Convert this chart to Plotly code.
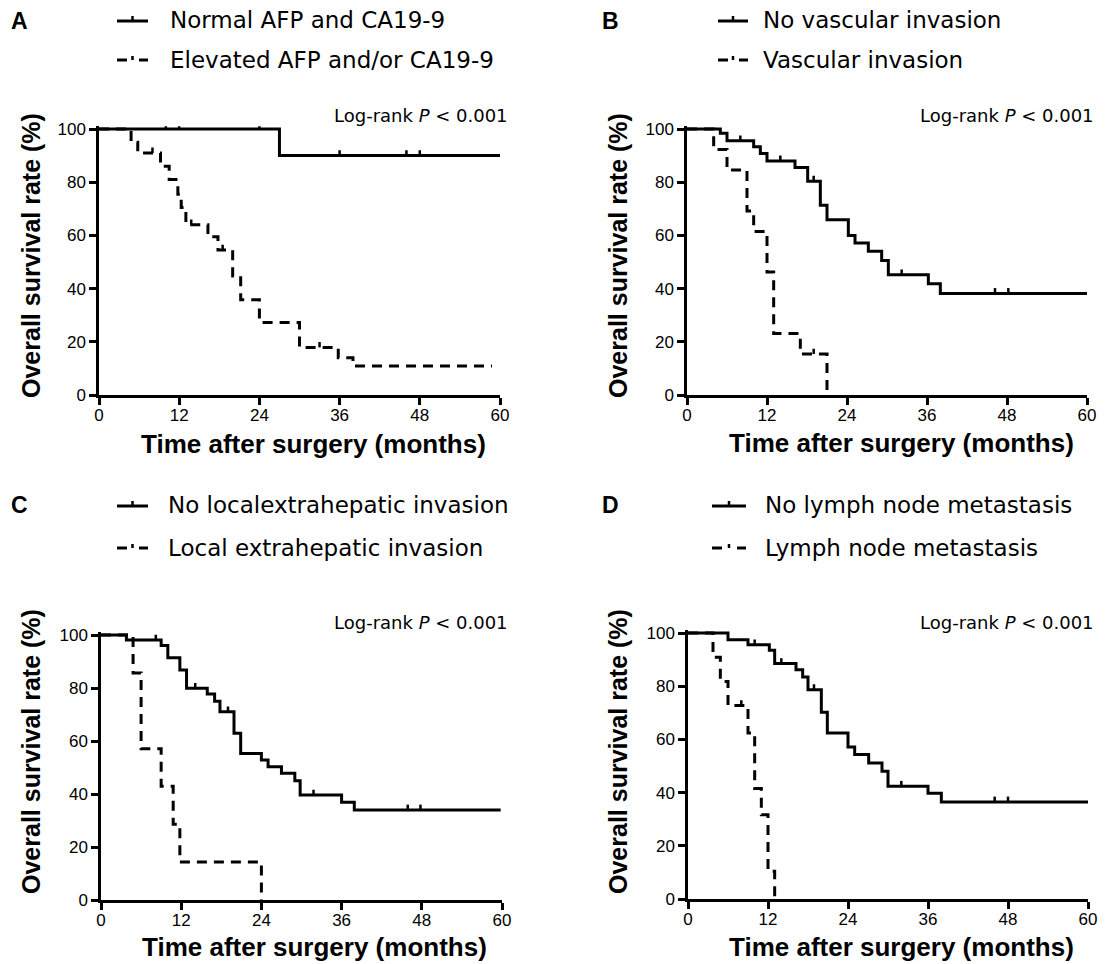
import plotly.graph_objects as go

W, H = 1105, 964
SANS = "Liberation Sans, Arial, Helvetica, sans-serif"
WIDE = "DejaVu Sans, Verdana, sans-serif"

# ---------------- data ----------------
x_ticks = [0, 12, 24, 36, 48, 60]
y_ticks = [0, 20, 40, 60, 80, 100]
panel_letters = ["A", "B", "C", "D"]
solid_labels = ["Normal AFP and CA19-9", "No vascular invasion",
                "No localextrahepatic invasion", "No lymph node metastasis"]
dashed_labels = ["Elevated AFP and/or CA19-9", "Vascular invasion",
                 "Local extrahepatic invasion", "Lymph node metastasis"]
x_title = "Time after surgery (months)"
y_title = "Overall survival rate (%)"
logrank_text = "Log-rank <i>P</i> &lt; 0.001"

# Panel A
a_solid_t = [0, 27, 60]
a_solid_s = [100, 90, 90]
a_solid_cens = [10, 12, 24, 36, 46, 48]
a_dash_t = [0, 4.8, 5.8, 9.2, 10.5, 11.8, 12.3, 13, 16.3, 17.8, 20, 21.2, 24, 30, 35.8, 38, 58.8]
a_dash_s = [100, 95, 91, 86, 81, 75.5, 70.5, 64, 59.5, 54.5, 44.7, 35.8, 27.3, 17.9, 14, 10.9, 10.9]
a_dash_cens = [8, 13.8, 18.5, 33]

# Panel B
b_solid_t = [0, 5, 6, 10, 11, 12, 16.2, 18.1, 20, 21, 24.2, 25.2, 27.2, 29.2, 30.2, 36.2, 38, 60]
b_solid_s = [100, 98.4, 95.6, 93.3, 90.8, 88, 85.5, 80.4, 71.3, 65.9, 60, 57.1, 54, 50.6, 45.2, 41.8, 38.2, 38.2]
b_solid_cens = [8, 14, 19, 32.2, 46.2, 48.2]
b_dash_t = [0, 4, 6, 9, 10, 12, 13, 17, 21]
b_dash_s = [100, 92.3, 84.6, 69.2, 61.5, 46.2, 23.1, 15.4, 0]
b_dash_cens = [19]

# Panel C
c_solid_t = [0, 3.8, 9, 10, 11.8, 12.8, 15.9, 17, 17.8, 19.9, 20.9, 24, 25, 27, 29, 29.8, 36, 37.9, 59.8]
c_solid_s = [100, 98.1, 96, 91.4, 86.8, 79.9, 77.7, 75, 71, 62.9, 55.3, 52.8, 50.3, 47.8, 45, 39.6, 36.9, 34, 34]
c_solid_cens = [8.2, 14.1, 19, 31.8, 45.9, 47.8]
c_dash_t = [0, 4.8, 6, 9, 10.8, 11.8, 24]
c_dash_s = [100, 85.7, 57.1, 42.9, 28.6, 14.3, 0]
c_dash_cens = []

# Panel D
d_solid_t = [0, 6, 9, 12.2, 13, 16.2, 17.2, 18, 20, 20.9, 24, 25, 27.1, 29.1, 30, 36, 38, 60]
d_solid_s = [100, 97.5, 95.6, 93.5, 88.5, 86.2, 83.5, 78.7, 70.2, 62.4, 57.1, 54.3, 51.1, 48, 42.4, 39.8, 36.5, 36.5]
d_solid_cens = [10, 14, 18.9, 32, 46, 48]
d_dash_t = [0, 3.75, 4.85, 6, 9, 10, 11, 12, 13]
d_dash_s = [100, 90.9, 81.8, 72.7, 62.4, 41.5, 31.7, 10.4, 0]
d_dash_cens = [8]

curves = [
    (a_solid_t, a_solid_s, a_solid_cens, a_dash_t, a_dash_s, a_dash_cens),
    (b_solid_t, b_solid_s, b_solid_cens, b_dash_t, b_dash_s, b_dash_cens),
    (c_solid_t, c_solid_s, c_solid_cens, c_dash_t, c_dash_s, c_dash_cens),
    (d_solid_t, d_solid_s, d_solid_cens, d_dash_t, d_dash_s, d_dash_cens),
]

# ---------------- layout geometry (pixels) ----------------
panels = [
    dict(x0=99, x1=500, y0=395, y100=129, letter=(19, 21), leg_y=(20, 60),
         sym=(117, 148), txt=168, xt=(313, 444), yt=(31, 256), lr=(510, 115)),
    dict(x0=687, x1=1087, y0=395, y100=129, letter=(610, 21), leg_y=(20, 60),
         sym=(718, 748), txt=761, xt=(901, 443), yt=(618, 256), lr=(1096, 115)),
    dict(x0=101, x1=502, y0=900, y100=635, letter=(19, 505), leg_y=(505, 548),
         sym=(117, 148), txt=166, xt=(314, 947), yt=(31, 752), lr=(510, 622)),
    dict(x0=688, x1=1088, y0=899, y100=633, letter=(610, 505), leg_y=(505, 548),
         sym=(712, 746), txt=763, xt=(901, 947), yt=(618, 752), lr=(1096, 622)),
]
YMAX = 101


def px(x):
    return x / W


def py(y):
    return 1 - y / H


def surv_at(t, times, surv):
    v = surv[0]
    for ti, si in zip(times, surv):
        if ti <= t:
            v = si
    return v


fig = go.Figure()
layout = {}
shapes = []
annotations = []

for i, (p, c) in enumerate(zip(panels, curves)):
    sfx = "" if i == 0 else str(i + 1)
    xa, ya = "x" + sfx, "y" + sfx
    st, ss, sc, dt, ds, dc = c

    fig.add_trace(go.Scatter(x=dt, y=ds, xaxis=xa, yaxis=ya, mode="lines",
                             line=dict(shape="hv", color="black", width=3, dash="10px,7px"),
                             hoverinfo="skip"))
    fig.add_trace(go.Scatter(x=st, y=ss, xaxis=xa, yaxis=ya, mode="lines",
                             line=dict(shape="hv", color="black", width=3),
                             hoverinfo="skip"))
    for cens, tt, sv in ((sc, st, ss), (dc, dt, ds)):
        if not cens:
            continue
        cy = [surv_at(t, tt, sv) for t in cens]
        fig.add_trace(go.Scatter(
            x=cens, y=cy, xaxis=xa, yaxis=ya, mode="markers", cliponaxis=False,
            marker=dict(size=1, color="rgba(0,0,0,0)"),
            error_y=dict(type="data", symmetric=False, array=[2.0] * len(cens),
                         arrayminus=[0] * len(cens), color="black", thickness=2.5, width=0),
            hoverinfo="skip"))

    ytop = p["y0"] - (p["y0"] - p["y100"]) * YMAX / 100
    axis_common = dict(ticks="outside", ticklen=7, tickwidth=2.5, tickcolor="black",
                       showline=True, linewidth=2.5, linecolor="black",
                       showgrid=False, zeroline=False, fixedrange=True,
                       tickfont=dict(family=SANS, size=17, color="black"))
    layout["xaxis" + sfx] = dict(domain=[px(p["x0"]), px(p["x1"])], range=[0, 60],
                                 anchor=ya, tickvals=x_ticks, ticklabelstandoff=-4,
                                 **axis_common)
    layout["yaxis" + sfx] = dict(domain=[py(p["y0"]), py(ytop)], range=[0, YMAX],
                                 anchor=xa, tickvals=y_ticks, **axis_common)

    # panel letter
    annotations.append(dict(x=px(p["letter"][0]), y=py(p["letter"][1]), xref="paper", yref="paper",
                            text=panel_letters[i], showarrow=False, xanchor="center", yanchor="middle",
                            font=dict(family=SANS, size=23, color="black", weight="bold")))
    # legend
    s0, s1 = p["sym"]
    sm = (s0 + s1) / 2
    r1, r2 = p["leg_y"]
    shapes.append(dict(type="line", xref="paper", yref="paper", x0=px(s0), x1=px(s1),
                       y0=py(r1 + 1), y1=py(r1 + 1), line=dict(color="black", width=3)))
    shapes.append(dict(type="line", xref="paper", yref="paper", x0=px(sm), x1=px(sm),
                       y0=py(r1 + 1), y1=py(r1 - 4), line=dict(color="black", width=2.5)))
    shapes.append(dict(type="line", xref="paper", yref="paper", x0=px(s0), x1=px(s0 + 10),
                       y0=py(r2), y1=py(r2), line=dict(color="black", width=3)))
    shapes.append(dict(type="line", xref="paper", yref="paper", x0=px(s1 - 9), x1=px(s1),
                       y0=py(r2), y1=py(r2), line=dict(color="black", width=3)))
    shapes.append(dict(type="line", xref="paper", yref="paper", x0=px(sm), x1=px(sm),
                       y0=py(r2), y1=py(r2 - 4), line=dict(color="black", width=2.5)))
    annotations.append(dict(x=px(p["txt"]), y=py(r1), xref="paper", yref="paper",
                            text=solid_labels[i], showarrow=False, xanchor="left", yanchor="middle",
                            font=dict(family=WIDE, size=23, color="black")))
    annotations.append(dict(x=px(p["txt"]), y=py(r2), xref="paper", yref="paper",
                            text=dashed_labels[i], showarrow=False, xanchor="left", yanchor="middle",
                            font=dict(family=WIDE, size=23, color="black")))
    # axis titles
    annotations.append(dict(x=px(p["xt"][0]), y=py(p["xt"][1]), xref="paper", yref="paper",
                            text=x_title, showarrow=False, xanchor="center", yanchor="middle",
                            font=dict(family=SANS, size=26, color="black", weight="bold")))
    annotations.append(dict(x=px(p["yt"][0]), y=py(p["yt"][1]), xref="paper", yref="paper",
                            text=y_title, showarrow=False, xanchor="center", yanchor="middle",
                            textangle=-90,
                            font=dict(family=SANS, size=25, color="black", weight="bold")))
    # log-rank
    annotations.append(dict(x=px(p["lr"][0]), y=py(p["lr"][1]), xref="paper", yref="paper",
                            text=logrank_text, showarrow=False, xanchor="right", yanchor="middle",
                            font=dict(family=WIDE, size=18, color="black")))

fig.update_layout(
    width=W, height=H, margin=dict(l=0, r=0, t=0, b=0, autoexpand=False),
    paper_bgcolor="white", plot_bgcolor="white", showlegend=False,
    shapes=shapes, annotations=annotations, **layout)

fig.write_html("out.html", config={"displayModeBar": False},
               post_script="document.body.style.margin='0px';document.body.style.overflow='hidden';")
